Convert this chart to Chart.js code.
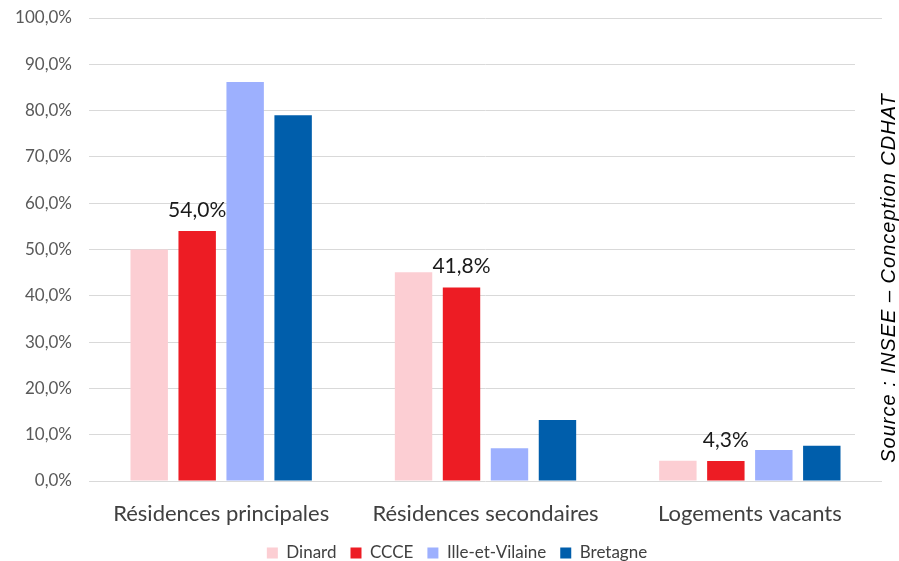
<!DOCTYPE html>
<html>
<head>
<meta charset="utf-8">
<script src="https://cdn.jsdelivr.net/npm/chart.js@4/dist/chart.umd.min.js"></script>
<style>
  html, body { margin: 0; padding: 0; background: #fff; }
  #wrap { width: 899px; height: 561px; position: relative; }
</style>
</head>
<body>
<div id="wrap"><canvas id="chart-body"></canvas></div>
<script>
const categories = ['Résidences principales', 'Résidences secondaires', 'Logements vacants'];
const seriesNames = ['Dinard', 'CCCE', 'Ille-et-Vilaine', 'Bretagne'];
const dinard = [50.0, 45.1, 4.4];
const ccce = [54.0, 41.8, 4.3];
const illeEtVilaine = [86.2, 7.1, 6.7];
const bretagne = [79.0, 13.2, 7.6];
const yTicks = [0, 10, 20, 30, 40, 50, 60, 70, 80, 90, 100];
const sourceText = 'Source : INSEE – Conception CDHAT';

const colors = ['#FCCED3', '#ED1C24', '#9DB0FE', '#005EAB'];
const fmt = v => v.toFixed(1).replace('.', ',') + '%';

// value labels on the CCCE bars only
const ccceLabels = {
    id: 'ccceLabels',
    afterDatasetsDraw(chart) {
        const ctx = chart.ctx;
        const meta = chart.getDatasetMeta(1);
        ctx.save();
        ctx.font = '21px Lato';
        ctx.fillStyle = '#1a1a1a';
        ctx.textAlign = 'center';
        ctx.textBaseline = 'alphabetic';
        meta.data.forEach((bar, i) => {
            ctx.fillText(fmt(ccce[i]), bar.x, bar.y - 14);
        });
        ctx.restore();
    }
};

// nudge the legend a little right and down
const legendShift = {
    id: 'legendShift',
    afterLayout(chart) {
        const lg = chart.legend;
        lg.left += 16;
        lg.right += 16;
        lg.top += 2;
        lg.bottom += 2;
    }
};

// rotated source note on the right edge
const sourceNote = {
    id: 'sourceNote',
    afterDraw(chart) {
        const ctx = chart.ctx;
        ctx.save();
        ctx.fillStyle = '#ffffff';
        ctx.fillRect(855, 45, 44, 420);
        ctx.translate(889, 278);
        ctx.rotate(-Math.PI / 2);
        ctx.font = 'italic 20px "Liberation Sans"';
        ctx.letterSpacing = '1px';
        ctx.fillStyle = '#000000';
        ctx.textAlign = 'center';
        ctx.textBaseline = 'middle';
        ctx.fillText(sourceText, 0, 0);
        ctx.restore();
    }
};

function initializeChart() {
    const ctx = document.getElementById('chart-body').getContext('2d');
    const values = [dinard, ccce, illeEtVilaine, bretagne];
    window.chart = new Chart(ctx, {
        type: 'bar',
        data: {
            labels: categories,
            datasets: seriesNames.map((name, i) => ({
                label: name,
                data: values[i],
                backgroundColor: colors[i],
                borderWidth: 0,
                categoryPercentage: 0.726,
                barPercentage: 0.78
            }))
        },
        options: {
            responsive: true,
            maintainAspectRatio: false,
            devicePixelRatio: 1,
            animation: false,
            layout: { padding: { top: 18, right: 17, left: 0, bottom: -8.5 } },
            plugins: {
                tooltip: { enabled: false },
                legend: {
                    position: 'bottom',
                    labels: {
                        boxWidth: 11,
                        boxHeight: 11,
                        padding: 14,
                        color: '#404040',
                        font: { family: 'Lato', size: 17 }
                    }
                }
            },
            scales: {
                x: {
                    grid: { display: false },
                    border: { display: false },
                    ticks: {
                        color: '#404040',
                        padding: 12,
                        font: { family: 'Lato', size: 22 }
                    },
                    afterFit(scale) { scale.height = 47.5; }
                },
                y: {
                    min: 0,
                    max: 100,
                    afterBuildTicks(scale) { scale.ticks = yTicks.map(v => ({ value: v })); },
                    grid: { color: '#D9D9D9', lineWidth: 1, drawTicks: false },
                    border: { display: false },
                    ticks: {
                        color: '#595959',
                        padding: 17,
                        font: { family: 'Lato', size: 17 },
                        callback: v => fmt(v)
                    },
                    afterFit(scale) {
                        scale.width = 89;
                        scale.paddingTop = 0;
                        scale.paddingBottom = 0;
                    }
                }
            }
        },
        plugins: [ccceLabels, legendShift, sourceNote]
    });
}

initializeChart();
</script>
</body>
</html>
